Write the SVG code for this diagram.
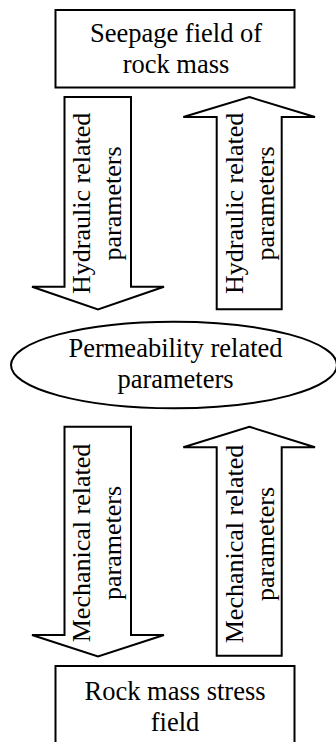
<svg xmlns="http://www.w3.org/2000/svg" width="336" height="742" viewBox="0 0 336 742">
<style>
.shape{fill:#ffffff;stroke:#000000;stroke-width:2;stroke-linejoin:miter}
.t{font-family:"Liberation Serif","Times New Roman",serif;font-size:26.5px;fill:#000000;text-anchor:middle}
.v{font-family:"Liberation Serif","Times New Roman",serif;font-size:26px;fill:#000000;text-anchor:middle}
</style>
<rect width="336" height="742" fill="#ffffff"/>
<g id="seepage">
<rect class="shape" x="55.5" y="10" width="239" height="77.5"/>
<text class="t" x="176" y="41.7">Seepage field of</text>
<text class="t" x="176" y="73">rock mass</text>
</g>
<g id="permeability">
<ellipse class="shape" cx="174" cy="365" rx="163" ry="43.3"/>
<text class="t" x="175.5" y="357">Permeability related</text>
<text class="t" x="175.5" y="388">parameters</text>
</g>
<g id="stress">
<rect class="shape" x="55.5" y="666" width="239" height="100"/>
<text class="t" x="175" y="699.5">Rock mass stress</text>
<text class="t" x="175" y="730.5">field</text>
</g>
<g id="connectors">
<g id="hydraulic-down">
<polygon class="shape" points="64.5,97 131,97 131,286.7 164,286.7 98,309.5 32,286.7 64.5,286.7"/>
<g transform="translate(97.75,203.4) rotate(-90)">
<text class="v" x="0" y="-7.5">Hydraulic related</text>
<text class="v" x="0" y="23.5">parameters</text>
</g>
</g>
<g id="hydraulic-up">
<polygon class="shape" points="249.3,97 315,117 281.7,117 281.7,309.3 216.7,309.3 216.7,117 183.3,117"/>
<g transform="translate(249.2,203.4) rotate(-90)">
<text class="v" x="0" y="-6">Hydraulic related</text>
<text class="v" x="0" y="25">parameters</text>
</g>
</g>
<g id="mechanical-down">
<polygon class="shape" points="64.5,426.7 131,426.7 131,635 164,635 98,656.5 32,635 64.5,635"/>
<g transform="translate(97.75,543) rotate(-90)">
<text class="v" x="0" y="-7.5">Mechanical related</text>
<text class="v" x="0" y="23.5">parameters</text>
</g>
</g>
<g id="mechanical-up">
<polygon class="shape" points="249.3,426.7 315,447.3 281.7,447.3 281.7,655.7 216.7,655.7 216.7,447.3 183.3,447.3"/>
<g transform="translate(249.2,544) rotate(-90)">
<text class="v" x="0" y="-6">Mechanical related</text>
<text class="v" x="0" y="25">parameters</text>
</g>
</g>
</g>
</svg>
